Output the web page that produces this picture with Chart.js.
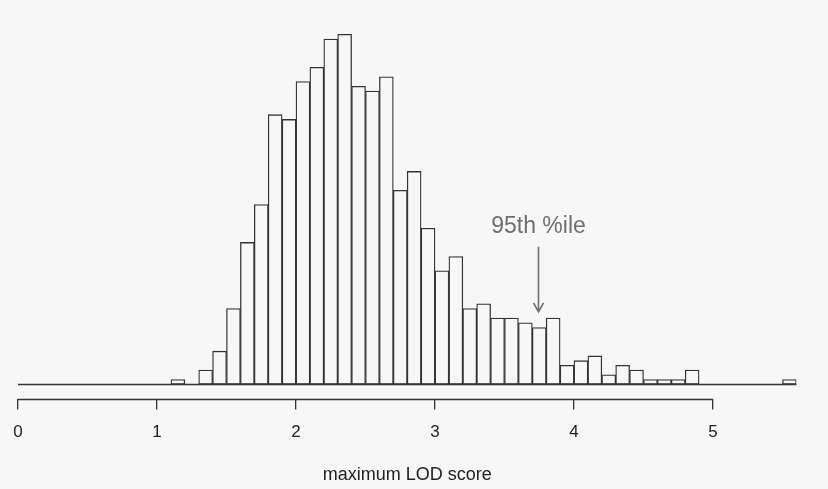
<!DOCTYPE html>
<html>
<head>
<meta charset="utf-8">
<script src="https://cdn.jsdelivr.net/npm/chart.js@4.4.1/dist/chart.umd.min.js"></script>
<style>
  html, body { margin: 0; padding: 0; background: #f7f7f7; }
  #canvas { display: block; }
</style>
</head>
<body>
<canvas id="canvas" width="828" height="489"></canvas>
<script>
// bins de 0.1 desde 1.1 hasta 5.6 (inicio de cada bin)
const binStarts = [1.1, 1.2, 1.3, 1.4, 1.5, 1.6, 1.7, 1.8, 1.9, 2.0,
  2.1, 2.2, 2.3, 2.4, 2.5, 2.6, 2.7, 2.8, 2.9, 3.0,
  3.1, 3.2, 3.3, 3.4, 3.5, 3.6, 3.7, 3.8, 3.9, 4.0,
  4.1, 4.2, 4.3, 4.4, 4.5, 4.6, 4.7, 4.8, 4.9, 5.0,
  5.1, 5.2, 5.3, 5.4, 5.5];
const counts = [1, 0, 3, 7, 16, 30, 38, 57, 56, 64,
  67, 73, 74, 63, 62, 65, 41, 45, 33, 24,
  27, 16, 17, 14, 14, 13, 12, 14, 4, 5,
  6, 2, 4, 3, 1, 1, 1, 3, 0, 0,
  0, 0, 0, 0, 1];
const binWidth = 0.1;
const tickValues = [0, 1, 2, 3, 4, 5];
const xTitle = "maximum LOD score";

// anotacion del percentil 95
const pct95 = 3.74;
const pctLabel = "95th %ile";
const arrowFrom = 29.1;
const arrowTo = 15.3;
const labelAt = 33.3;

const fontFam = "'Liberation Sans', Arial, Helvetica, sans-serif";

// linea base, eje recortado y flecha
const extras = {
  id: "extras",
  afterDatasetsDraw(chart) {
    const ctx = chart.ctx;
    const x = chart.scales.x;
    const y = chart.scales.y;
    ctx.save();
    ctx.strokeStyle = "#333";
    ctx.lineWidth = 1.3;
    // linea base
    const y0 = Math.round(y.getPixelForValue(0)) + 0.5;
    ctx.beginPath();
    ctx.moveTo(x.getPixelForValue(0), y0);
    ctx.lineTo(x.getPixelForValue(binStarts[binStarts.length - 1] + binWidth), y0);
    ctx.stroke();
    // eje x de 0 a 5
    const ya = Math.round(chart.chartArea.bottom) + 0.5;
    ctx.beginPath();
    ctx.moveTo(x.getPixelForValue(tickValues[0]), ya);
    ctx.lineTo(x.getPixelForValue(tickValues[tickValues.length - 1]), ya);
    ctx.stroke();
    // flecha
    const ax = Math.round(x.getPixelForValue(pct95)) + 0.5;
    const a1 = y.getPixelForValue(arrowFrom);
    const a2 = y.getPixelForValue(arrowTo);
    ctx.strokeStyle = "#6f6f6f";
    ctx.lineWidth = 1.6;
    ctx.beginPath();
    ctx.moveTo(ax, a1);
    ctx.lineTo(ax, a2);
    ctx.moveTo(ax - 5, a2 - 9);
    ctx.lineTo(ax, a2);
    ctx.lineTo(ax + 5, a2 - 9);
    ctx.stroke();
    ctx.fillStyle = "#6f6f6f";
    ctx.font = "23px " + fontFam;
    ctx.textAlign = "center";
    ctx.textBaseline = "middle";
    ctx.fillText(pctLabel, ax, y.getPixelForValue(labelAt));
    ctx.restore();
  },
};

const ctx = document.getElementById("canvas").getContext("2d");
window.myBar = new Chart(ctx, {
  type: "bar",
  data: {
    datasets: [
      {
        data: binStarts.map((b, i) => ({ x: b + binWidth / 2, y: counts[i] })),
        backgroundColor: "#f7f7f7",
        borderColor: "#333",
        borderWidth: 1.3,
        borderSkipped: false,
        barPercentage: 1,
        categoryPercentage: 1,
      },
    ],
  },
  options: {
    responsive: false,
    animation: false,
    devicePixelRatio: 1,
    layout: { padding: { left: 18, right: 31.6, top: 5.9, bottom: 0 } },
    plugins: { legend: { display: false }, tooltip: { enabled: false } },
    scales: {
      x: {
        type: "linear",
        min: 0,
        max: 5.6,
        offset: false,
        afterBuildTicks: (scale) => {
          scale.ticks = tickValues.map((v) => ({ value: v }));
        },
        afterFit: (scale) => {
          scale.height = 90.5;
        },
        border: { display: false },
        grid: {
          offset: false,
          drawOnChartArea: false,
          drawTicks: true,
          tickLength: 11,
          color: "#333",
          lineWidth: 1.3,
        },
        ticks: {
          color: "#222",
          padding: 13,
          maxRotation: 0,
          font: { family: fontFam, size: 17 },
          callback: (v) => String(v),
        },
        title: {
          display: true,
          text: xTitle,
          color: "#222",
          font: { family: fontFam, size: 18 },
          padding: { top: 0, bottom: 3 },
        },
      },
      y: {
        display: false,
        min: -3,
        max: 80,
      },
    },
  },
  plugins: [extras],
});
</script>
</body>
</html>
